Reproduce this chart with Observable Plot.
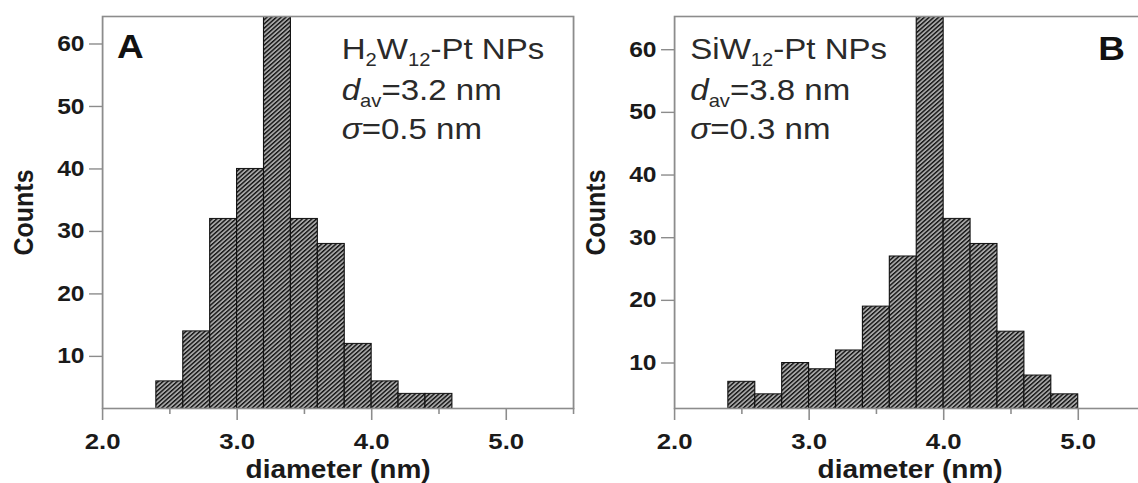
<!DOCTYPE html>
<html><head><meta charset="utf-8">
<script src="https://cdn.jsdelivr.net/npm/d3@7"></script>
<script src="https://cdn.jsdelivr.net/npm/@observablehq/plot@0.6"></script>
<style>
html,body{margin:0;padding:0;background:#fff;overflow:hidden;width:1138px;height:483px;}
#wrap{position:relative;width:1138px;height:483px;overflow:hidden;}
#wrap > svg{position:absolute;top:0;transform:scaleX(1.12);transform-origin:0 0;}
</style></head><body>
<svg width="0" height="0" style="position:absolute">
  <defs>
    <pattern id="hatch" patternUnits="userSpaceOnUse" width="3.0" height="3.0" patternTransform="rotate(45)">
      <rect width="3.0" height="3.0" fill="#a6a6a6"></rect>
      <rect width="1.3" height="3.0" fill="#111"></rect>
    </pattern>
  </defs>
</svg>
<div id="wrap"></div>
<script>
// ---- data ----
const binWidth = 0.2;
const binsA = [2.4, 2.6, 2.8, 3.0, 3.2, 3.4, 3.6, 3.8, 4.0, 4.2, 4.4];
const countsA = [6, 14, 32, 40, 80, 32, 28, 12, 6, 4, 4];
const binsB = [2.4, 2.6, 2.8, 3.0, 3.2, 3.4, 3.6, 3.8, 4.0, 4.2, 4.4, 4.6, 4.8];
const countsB = [7, 5, 10, 9, 12, 19, 27, 80, 33, 29, 15, 8, 5];
const yTicks = [10, 20, 30, 40, 50, 60];
const xMajor = [2, 3, 4, 5];
const xMinor = [2.5, 3.5, 4.5, 5.5];
const xLabel = "diameter (nm)";
const yLabel = "Counts";
const linesA = [
  [{t:"H"},{t:"2",sub:true},{t:"W"},{t:"12",sub:true},{t:"-Pt NPs"}],
  [{t:"d",it:true},{t:"av",sub:true},{t:"=3.2 nm"}],
  [{t:"σ",it:true},{t:"=0.5 nm"}]
];
const linesB = [
  [{t:"SiW"},{t:"12",sub:true},{t:"-Pt NPs"}],
  [{t:"d",it:true},{t:"av",sub:true},{t:"=3.8 nm"}],
  [{t:"σ",it:true},{t:"=0.3 nm"}]
];

const FONT = "'Liberation Sans', Arial, Helvetica, sans-serif";
const W = 536;             // local svg width (page width ≈ 600 after scaleX 1.12)
const ML = 91.1, MR = 24.4;

function annotation(lines, letter, side) {
  return (index, scales, values, dims) => {
    const g = d3.create("svg:g").attr("font-family", FONT).attr("text-anchor", "start");
    const fl = dims.marginLeft, fr = dims.width - dims.marginRight;
    const tx = side === "left" ? fl + 214 : fl + 14.5;
    const baselines = [59, 100, 139];
    const t = g.append("text").attr("font-size", 29.5).attr("fill", "#2a2a2a");
    lines.forEach((segs, i) => {
      segs.forEach((s, j) => {
        const sp = t.append("tspan").text(s.t);
        if (j === 0) sp.attr("x", tx);
        sp.attr("y", baselines[i] + (s.sub ? 7 : 0));
        if (s.sub) sp.attr("font-size", 18);
        if (s.it) sp.attr("font-style", "italic");
      });
    });
    const L = g.append("text").text(letter).attr("font-size", 33).attr("font-weight", "bold").attr("fill", "#111");
    if (side === "left") L.attr("x", fl + 13.4).attr("y", 58);
    else L.attr("x", fr - 17.8).attr("y", 60).attr("text-anchor", "end");
    return g.node();
  };
}

function panel(bins, counts, yDomain, lines, letter, side) {
  const data = bins.map((b, i) => ({x1: b, x2: b + binWidth, y: counts[i]}));
  return Plot.plot({
    width: W, height: 483,
    marginLeft: ML, marginRight: MR, marginTop: 16, marginBottom: 75,
    style: {background: "transparent", overflow: "visible", fontFamily: FONT, maxWidth: "none"},
    x: {domain: [2, 5.5]},
    y: {domain: yDomain},
    marks: [
      Plot.rect(data, {x1: "x1", x2: "x2", y1: 0, y2: "y", fill: "url(#hatch)", stroke: "#111", strokeWidth: 1, clip: true}),
      Plot.frame({stroke: "#8c8c8c", strokeWidth: 1.6}),
      Plot.axisY({ticks: yTicks, tickSize: 11.6, tickPadding: 4.5, fontSize: 22, fontWeight: "bold", label: null, stroke: "#8c8c8c", fill: "#1a1a1a", strokeWidth: 1.4}),
      Plot.axisX({ticks: xMajor, tickSize: 12, tickPadding: 12, tickFormat: d3.format(".1f"), fontSize: 23, fontWeight: "bold", label: null, stroke: "#8c8c8c", fill: "#1a1a1a", strokeWidth: 1.4}),
      Plot.axisX({ticks: xMinor, tickSize: 6, tickFormat: () => "", label: null, stroke: "#8c8c8c", strokeWidth: 1.4}),
      Plot.text([yLabel], {text: d => d, frameAnchor: "left", textAnchor: "middle", rotate: -90, dx: -69.7, fontSize: 25, fontWeight: "bold", fill: "#1a1a1a"}),
      Plot.text([xLabel], {text: d => d, frameAnchor: "bottom", lineAnchor: "top", dy: 52, fontSize: 25, fontWeight: "bold", fill: "#1a1a1a"}),
      annotation(lines, letter, side)
    ]
  });
}

const wrap = document.getElementById("wrap");
const a = panel(binsA, countsA, [1.66, 64.4], linesA, "A", "left");
a.style.left = "0px";
const b = panel(binsB, countsB, [2.74, 65.3], linesB, "B", "right");
b.style.left = "572px";
wrap.appendChild(a);
wrap.appendChild(b);
</script>
</body></html>
